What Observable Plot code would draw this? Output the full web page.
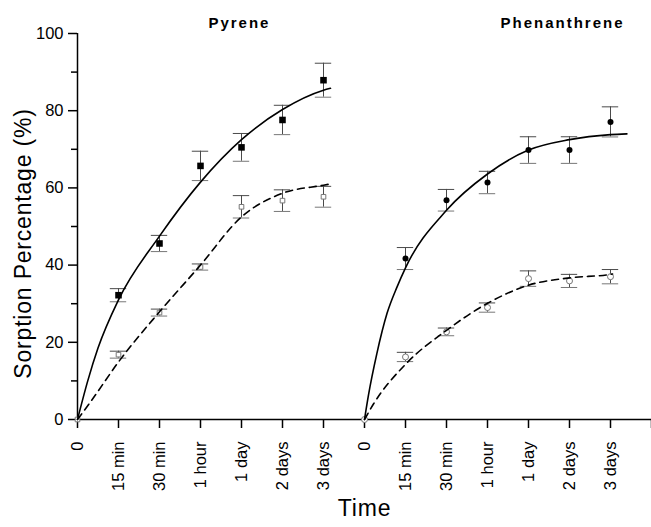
<!DOCTYPE html>
<html>
<head>
<meta charset="utf-8">
<script src="https://cdn.jsdelivr.net/npm/d3@7"></script>
<script src="https://cdn.jsdelivr.net/npm/@observablehq/plot@0.6"></script>
<style>
  body { margin: 0; background: #fff; }
</style>
</head>
<body>
<div id="chart"></div>
<script>
// Sampling times (same schedule for both compounds)
const timeLabels = ["0", "15 min", "30 min", "1 hour", "1 day", "2 days", "3 days"];

// Pyrene – measured sorption (%) and standard deviations
const pyreneSolid = [0, 32.2, 45.6, 65.7, 70.5, 77.6, 87.9];
const pyreneSolidErr = [0, 1.7, 2.1, 3.8, 3.6, 3.8, 4.4];
const pyreneOpen = [0, 16.8, 27.7, 39.5, 55.1, 56.7, 57.7];
const pyreneOpenErr = [0, 0.9, 0.9, 0.8, 2.9, 2.8, 2.7];

// Phenanthrene – measured sorption (%) and standard deviations
const phenSolid = [0, 41.7, 56.8, 61.4, 69.8, 69.8, 77.1];
const phenSolidErr = [0, 2.85, 2.8, 2.9, 3.45, 3.45, 3.9];
const phenOpen = [0, 16.2, 22.7, 29.0, 36.5, 35.9, 37.0];
const phenOpenErr = [0, 1.2, 1.0, 1.2, 2.0, 1.7, 1.85];

// Fitted kinetic curves, sampled along the time axis
const pyreneSolidFitT = [0, 0.25, 0.5, 1, 2, 3, 4, 5, 6, 6.17];
const pyreneSolidFit  = [0, 10.0, 18.5, 31.0, 47.5, 61.5, 72.5, 80.3, 85.3, 85.8];
const pyreneOpenFitT  = [0, 0.32, 1, 2, 3, 4, 5, 6, 6.15];
const pyreneOpenFit   = [0, 4.6, 14.9, 27.9, 40.0, 52.5, 58.6, 60.7, 61.0];
const phenSolidFitT   = [7, 7.1, 7.3, 7.55, 7.8, 8, 9, 10, 11, 12, 13, 13.4];
const phenSolidFit    = [0, 6.5, 17.0, 27.5, 34.5, 39.3, 54.2, 63.6, 69.8, 72.5, 73.8, 74.0];
const phenOpenFitT    = [7, 7.23, 8, 9, 10, 11, 12, 13, 13.05];
const phenOpenFit     = [0, 4.2, 14.3, 23.1, 30.1, 34.8, 36.7, 37.6, 37.7];

const xLabels = [...timeLabels, ...timeLabels];

const toPoints = (vals, errs, offset) => vals.map((v, i) => ({x: i + offset, y: v, e: errs[i]}));
const toCurve = (ts, vals) => ts.map((t, i) => ({x: t, y: vals[i]}));

const pySolidPts = toPoints(pyreneSolid, pyreneSolidErr, 0);
const pyOpenPts = toPoints(pyreneOpen, pyreneOpenErr, 0);
const phSolidPts = toPoints(phenSolid, phenSolidErr, 7);
const phOpenPts = toPoints(phenOpen, phenOpenErr, 7);
const allPts = [...pySolidPts, ...pyOpenPts, ...phSolidPts, ...phOpenPts].filter(d => d.e > 0);

const capHalf = 0.2;
const errColor = "#4a4a4a";
const font = "'Liberation Sans', Arial, Helvetica, sans-serif";

const chart = Plot.plot({
  width: 651,
  height: 527,
  marginLeft: 77,
  marginRight: 0,
  marginTop: 33,
  marginBottom: 108,
  style: {fontFamily: font, background: "#fff", color: "#000", overflow: "visible"},
  x: {domain: [0, 14], axis: null},
  y: {domain: [0, 100], axis: null},
  marks: [
    // axes
    Plot.axisY({ticks: [0, 20, 40, 60, 80, 100], tickSize: 9, tickPadding: 5, fontSize: 16.5, label: null, strokeWidth: 1.5}),
    Plot.axisY({ticks: [10, 30, 50, 70, 90], tickSize: 6, tickFormat: () => "", label: null, strokeWidth: 1.5}),
    Plot.axisX({ticks: d3.range(15), tickSize: 9, tickPadding: 13, tickRotate: -90, fontSize: 16.5,
      tickFormat: i => xLabels[i] ?? "", label: null, strokeWidth: 1.5}),
    Plot.ruleY([0], {stroke: "#000", strokeWidth: 1.5}),
    Plot.ruleX([0], {stroke: "#000", strokeWidth: 1.5}),

    // error bars
    Plot.ruleX(allPts, {x: "x", y1: d => d.y - d.e, y2: d => d.y + d.e, stroke: errColor, strokeWidth: 1}),
    Plot.ruleY(allPts, {y: d => d.y + d.e, x1: d => d.x - capHalf, x2: d => d.x + capHalf, stroke: errColor, strokeWidth: 1}),
    Plot.ruleY(allPts, {y: d => d.y - d.e, x1: d => d.x - capHalf, x2: d => d.x + capHalf, stroke: "#777", strokeWidth: 1}),

    // measured points
    Plot.dot(pySolidPts.filter(d => d.x > 0), {x: "x", y: "y", symbol: "square", r: 3.7, fill: "#000", stroke: "none"}),
    Plot.dot(phSolidPts.filter(d => d.x > 7), {x: "x", y: "y", symbol: "circle", r: 3, fill: "#000", stroke: "none"}),
    Plot.dot(pyOpenPts, {x: "x", y: "y", symbol: "square", r: 2.6, fill: "#fff", stroke: "#777", strokeWidth: 1}),
    Plot.dot(phOpenPts, {x: "x", y: "y", symbol: "circle", r: 3, fill: "#fff", stroke: "#777", strokeWidth: 1}),

    // fitted curves
    Plot.line(toCurve(pyreneSolidFitT, pyreneSolidFit), {x: "x", y: "y", curve: "monotone-x", stroke: "#000", strokeWidth: 1.6}),
    Plot.line(toCurve(phenSolidFitT, phenSolidFit), {x: "x", y: "y", curve: "monotone-x", stroke: "#000", strokeWidth: 1.6}),
    Plot.line(toCurve(pyreneOpenFitT, pyreneOpenFit), {x: "x", y: "y", curve: "monotone-x", stroke: "#000", strokeWidth: 1.6, strokeDasharray: "7,5"}),
    Plot.line(toCurve(phenOpenFitT, phenOpenFit), {x: "x", y: "y", curve: "monotone-x", stroke: "#000", strokeWidth: 1.6, strokeDasharray: "7,5"}),

    // panel titles
    Plot.text(["Pyrene"], {x: 3.95, y: 100, dy: -10, text: d => d, fontSize: 15, fontWeight: "bold", fill: "#000",
      lineAnchor: "middle"}),
    Plot.text(["Phenanthrene"], {x: 11.83, y: 100, dy: -10, text: d => d, fontSize: 15, fontWeight: "bold", fill: "#000",
      lineAnchor: "middle"}),

    // axis titles
    Plot.text(["Sorption Percentage (%)"], {frameAnchor: "left", textAnchor: "middle", dx: -54, dy: 17, rotate: -90,
      text: d => d, fontSize: 23, fill: "#000", lineAnchor: "middle"}),
    Plot.text(["Time"], {frameAnchor: "bottom", textAnchor: "middle", dy: 89, text: d => d, fontSize: 23, fill: "#000",
      lineAnchor: "middle"})
  ]
});

// letter spacing for the titles
d3.select(chart).selectAll("text").filter(function() {
  const t = this.textContent;
  return t === "Pyrene" || t === "Phenanthrene";
}).attr("letter-spacing", "2px");
d3.select(chart).selectAll("text").filter(function() {
  const t = this.textContent;
  return t === "Sorption Percentage (%)" || t === "Time";
}).attr("letter-spacing", "0.8px");

document.getElementById("chart").appendChild(chart);
</script>
</body>
</html>
